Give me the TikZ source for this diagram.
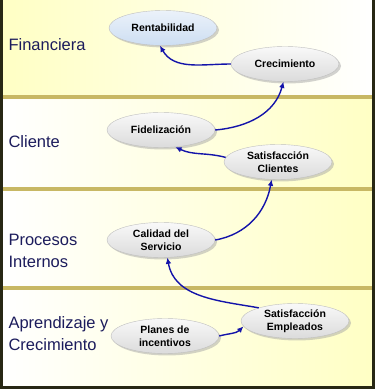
\documentclass[tikz,border=0pt]{standalone}
\usepackage{fontspec}
\usepackage{xcolor}
\usepackage{tikz}
\usetikzlibrary{arrows.meta,shapes.geometric,shadows}
\setmainfont{Liberation Sans}
\definecolor{amarillo}{RGB}{255,255,196}
\definecolor{dorado}{RGB}{200,184,100}
\definecolor{marino}{RGB}{28,28,92}
\definecolor{azulflecha}{RGB}{20,20,170}
\definecolor{celeste}{RGB}{205,222,242}
\definecolor{borde}{RGB}{40,40,20}

\begin{document}
\begin{tikzpicture}[x=1pt,y=1pt,
objetivo/.style={ellipse,draw=gray!50,top color=gray!5,bottom color=gray!28,minimum width=108pt,minimum height=35pt,inner sep=0pt,align=center,font=\fontsize{10.5}{13}\selectfont\bfseries,drop shadow={shadow xshift=2pt,shadow yshift=-2pt,fill=gray!70}},
meta/.style={objetivo,top color=celeste!40,bottom color=celeste},
perspectiva/.style={anchor=west,align=left,text=marino,font=\fontsize{16.5}{22}\selectfont},
separador/.style={dorado,line width=3.5pt},
flecha/.style={-{Latex[length=2.2mm,width=2mm]},azulflecha,line width=1.4pt}
]
\useasboundingbox (0,0) rectangle (375,389);
% fondo de las bandas
\shade[left color=amarillo,right color=white] (0,292) rectangle (375,389);
\shade[left color=white,right color=amarillo] (0,200) rectangle (375,292);
\shade[left color=white,right color=amarillo] (0,101) rectangle (375,200);
\shade[left color=white,right color=amarillo] (0,0) rectangle (375,101);
\draw[separador] (0,292) -- (375,292);
\draw[separador] (0,200) -- (375,200);
\draw[separador] (0,101) -- (375,101);
\draw[borde,line width=3pt] (1.5,389) -- (1.5,1.5) -- (373.5,1.5) -- (373.5,389);

\node[perspectiva] (financiera) at (5,344) {Financiera};
\node[perspectiva] (cliente) at (5,247) {Cliente};
\node[perspectiva] (procesos) at (5,138) {Procesos\\Internos};
\node[perspectiva] (aprendizaje) at (5,55) {Aprendizaje y\\Crecimiento};

\node[meta] (rent) at (163,361) {Rentabilidad};
\node[objetivo] (crec) at (285,325) {Crecimiento};
\node[objetivo] (fid) at (161,259) {Fidelización};
\node[objetivo] (satcli) at (278,227) {Satisfacción\\Clientes};
\node[objetivo] (cal) at (161,149) {Calidad del\\Servicio};
\node[objetivo] (satemp) at (295,68) {Satisfacción\\Empleados};
\node[objetivo] (planes) at (165,53) {Planes de\\incentivos};

\draw[flecha] (crec.west) to[out=180,in=-60] (rent.-100);
\draw[flecha] (fid.east) to[out=5,in=-105] (crec.-95);
\draw[flecha] (satcli.175) to[out=165,in=-25] (fid.-50);
\draw[flecha] (cal.east) to[out=10,in=-100] (satcli.-110);
\draw[flecha] (satemp.160) to[out=170,in=-80] (cal.-70);
\draw[flecha] (planes.east) to[out=15,in=-135] (satemp.186);
\end{tikzpicture}
\end{document}
